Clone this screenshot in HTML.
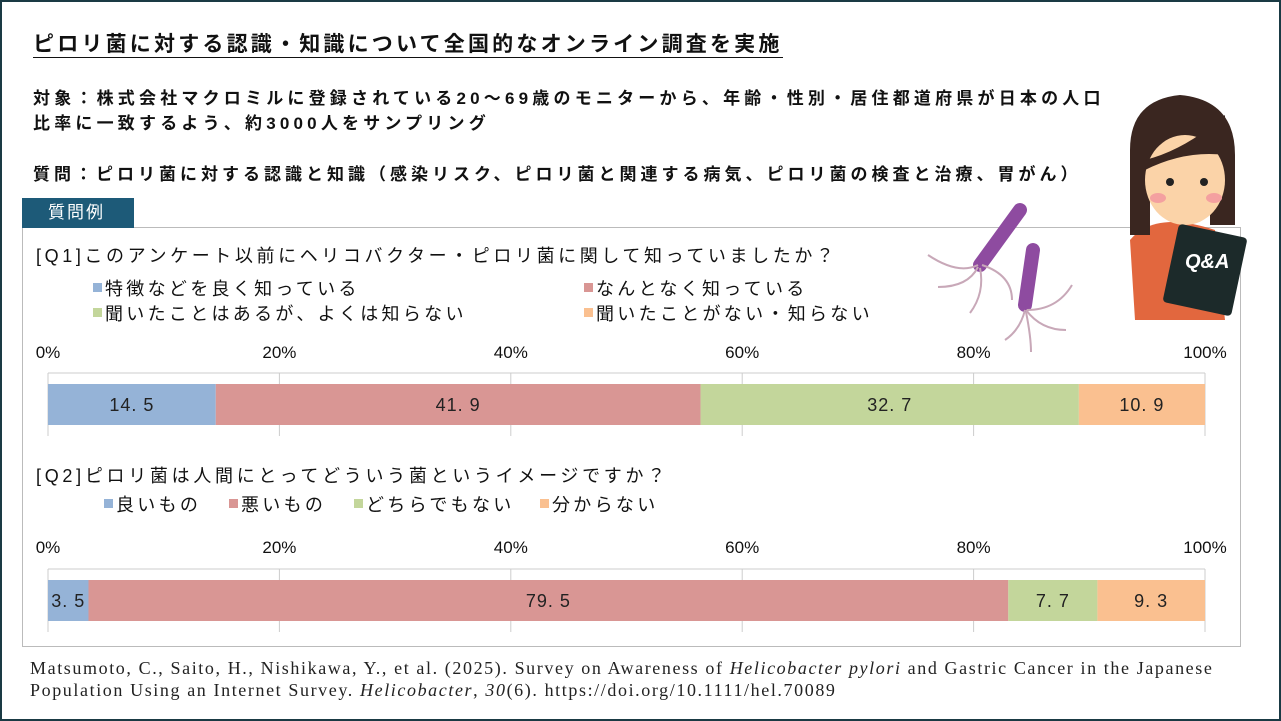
<!DOCTYPE html>
<html><head><meta charset="utf-8">
<style>
body{margin:0;width:1281px;height:721px;overflow:hidden;background:#fff;font-family:"Liberation Sans","Noto Sans CJK JP",sans-serif;}
#frame{position:absolute;left:0;top:0;width:1277px;height:717px;border:2px solid #1a3a44;}
.t{position:absolute;white-space:nowrap;color:#111;}
</style></head><body>
<div id="frame"></div>
<div class="t" style="left:33px;top:33px;font-size:21px;letter-spacing:3.2px;font-weight:bold;border-bottom:1.5px solid #111;line-height:24px;">ピロリ菌に対する認識・知識について全国的なオンライン調査を実施</div>
<div class="t" style="left:33px;top:86px;font-size:17px;letter-spacing:4.2px;font-weight:bold;line-height:25px;">対象：株式会社マクロミルに登録されている20～69歳のモニターから、年齢・性別・居住都道府県が日本の人口<br>比率に一致するよう、約3000人をサンプリング</div>
<div class="t" style="left:33px;top:160px;font-size:17px;letter-spacing:4px;font-weight:bold;">質問：ピロリ菌に対する認識と知識（感染リスク、ピロリ菌と関連する病気、ピロリ菌の検査と治療、胃がん）</div>
<div style="position:absolute;left:22px;top:227px;width:1217px;height:418px;border:1px solid #bbb;"></div>
<div class="t" style="left:22px;top:198px;width:112px;height:30px;background:#1d5a78;color:#fff;font-size:17px;letter-spacing:2px;line-height:30px;padding-left:26px;box-sizing:border-box;">質問例</div>
<div class="t" style="left:36px;top:242px;font-size:18px;letter-spacing:3.6px;">[Q1]このアンケート以前にヘリコバクター・ピロリ菌に関して知っていましたか？</div>
<div class="t" style="left:36px;top:462px;font-size:18px;letter-spacing:3.7px;">[Q2]ピロリ菌は人間にとってどういう菌というイメージですか？</div>
<svg id="chart" width="1281" height="721" style="position:absolute;left:0;top:0"></svg>
<svg width="380" height="300" style="position:absolute;left:890px;top:60px">
 <g><path d="M130 150 L 90 205" stroke="#8e4ba0" stroke-width="14" stroke-linecap="round"/>
 <path d="M88 205 q-20 10 -50 -10 M88 207 q-10 20 -40 20 M90 208 q5 25 -10 45 M92 205 q30 10 30 35" stroke="#c8a8b8" stroke-width="2" fill="none"/></g>
 <g><path d="M143 190 L 135 245" stroke="#8e4ba0" stroke-width="14" stroke-linecap="round"/>
 <path d="M135 250 q-5 20 -20 30 M136 250 q15 20 40 20 M137 250 q30 0 45 -25 M136 252 q5 25 5 40" stroke="#c8a8b8" stroke-width="2" fill="none"/></g>
 <g>
 <path d="M240 180 q25 -30 85 -10 l10 90 h-90 z" fill="#e2673e"/>
 <path d="M240 90 q0 -50 50 -55 q55 5 55 60 v70 h-25 v-40 h-60 v50 h-20 z" fill="#3a2620"/>
 <ellipse cx="295" cy="120" rx="40" ry="45" fill="#fbd3a8"/>
 <path d="M255 100 q40 -10 80 -45 v40 q-40 -5 -80 15z" fill="#3a2620"/>
 <circle cx="280" cy="122" r="4" fill="#222"/><circle cx="314" cy="122" r="4" fill="#222"/>
 <ellipse cx="268" cy="138" rx="8" ry="5" fill="#f4a0a0"/><ellipse cx="324" cy="138" rx="8" ry="5" fill="#f4a0a0"/>
 <rect x="280" y="170" width="70" height="80" rx="4" fill="#1c2a2a" transform="rotate(12 315 210)"/>
 <text x="295" y="208" font-size="20" font-weight="bold" fill="#fff" font-style="italic" font-family="Liberation Sans">Q&amp;A</text>
 </g>
</svg>
<div class="t" style="left:30px;top:657px;font-family:'Liberation Serif',serif;font-size:18px;letter-spacing:1.6px;line-height:22px;color:#222;">Matsumoto, C., Saito, H., Nishikawa, Y., et al. (2025). Survey on Awareness of <i>Helicobacter pylori</i> and Gastric Cancer in the Japanese<br>Population Using an Internet Survey. <i>Helicobacter</i>, <i>30</i>(6). https://doi.org/10.1111/hel.70089</div>
<script>
const colors=["#95b3d7","#d99694","#c3d69b","#fac090"];
const q1Categories=["特徴などを良く知っている","なんとなく知っている","聞いたことはあるが、よくは知らない","聞いたことがない・知らない"];
const q1Values=[14.5,41.9,32.7,10.9];
const q2Categories=["良いもの","悪いもの","どちらでもない","分からない"];
const q2Values=[3.5,79.5,7.7,9.3];
const tickValues=[0,20,40,60,80,100];
const tickLabels=["0%","20%","40%","60%","80%","100%"];
const svg=document.getElementById('chart');
const NS="http://www.w3.org/2000/svg";
const X0=48,X1=1205;
const xs=v=>X0+(X1-X0)*v/100;
function mk(tag,attrs,parent){const e=document.createElementNS(NS,tag);for(const k in attrs)e.setAttribute(k,attrs[k]);(parent||svg).appendChild(e);return e;}
function chart(id,vals,top,labelY){
 const g=mk('g',{});
 
 
 mk('line',{x1:X0,x2:X1,y1:top,y2:top,stroke:'#ccc'},g);
 tickValues.forEach((t,i)=>{
  const gl=mk('line',{x1:xs(t),x2:xs(t),y1:top,y2:top+63,stroke:'#ccc'},g);
  
  
  const tx=mk('text',{x:xs(t),y:labelY,'font-size':17,'text-anchor':'middle',fill:'#111','font-family':'Liberation Sans Narrow, Liberation Sans, sans-serif'},g);
  tx.textContent=tickLabels[i];
  
  
 });
 let acc=0;
 vals.forEach((v,i)=>{
  const r=mk('rect',{x:xs(acc),y:top+11,width:xs(acc+v)-xs(acc),height:41,fill:colors[i]},g);
  
  
  const tx=mk('text',{x:(xs(acc)+xs(acc+v))/2,y:top+38,'font-size':18,'text-anchor':'middle',fill:'#222','letter-spacing':'1'},g);
  tx.textContent=v.toFixed(1).replace('.','. ');
  
  
  acc+=v;
 });
}
function legend(cats,pos){
 cats.forEach((c,i)=>{
  const g=mk('g',{});
  
  
  mk('rect',{x:pos[i][0],y:pos[i][1]-12,width:9,height:9,fill:colors[i]},g);
  const t=mk('text',{x:pos[i][0]+12,y:pos[i][1],'font-size':18,'letter-spacing':'3.3',fill:'#111'},g);
  t.textContent=c;
 });
}
chart('q1',q1Values,373,358);
chart('q2',q2Values,569,553);
legend(q1Categories,[[93,295],[584,295],[93,320],[584,320]]);
legend(q2Categories,[[104,511],[229,511],[354,511],[540,511]]);
</script>
</body></html>
